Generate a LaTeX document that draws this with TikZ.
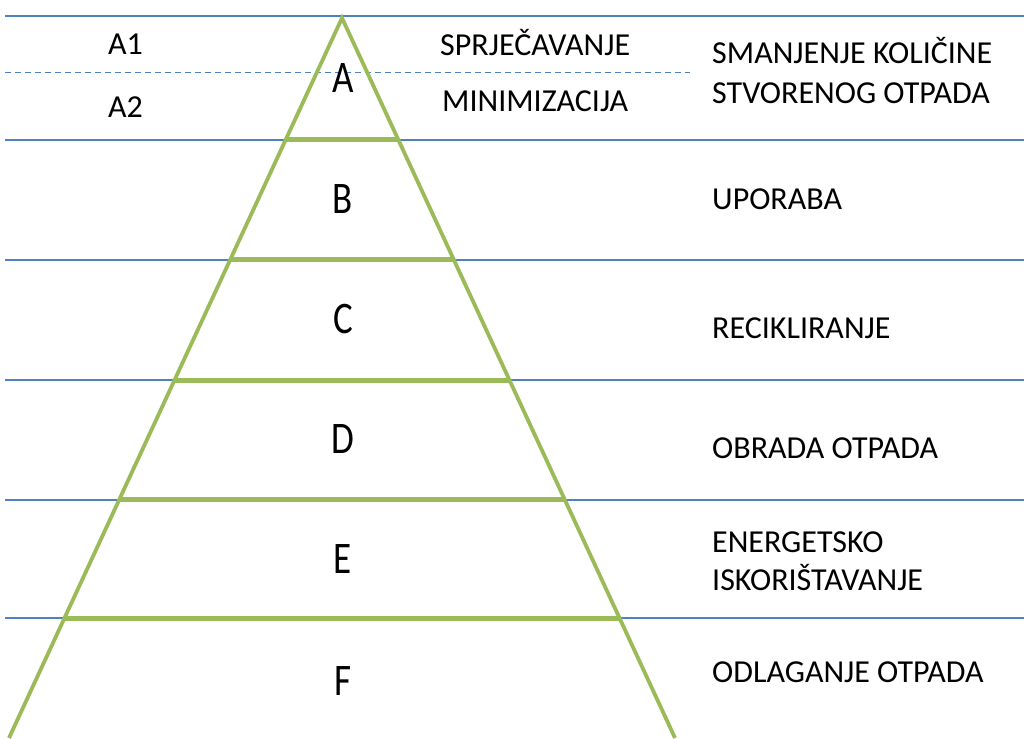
\documentclass[tikz,border=0pt]{standalone}
\usepackage{fontspec}
\usepackage{graphicx}
\setmainfont{Carlito}
\usetikzlibrary{calc}
\definecolor{rowblue}{HTML}{4F81BD}
\definecolor{pyrgreen}{HTML}{9BBB59}
\newcommand{\tallletter}[1]{\scalebox{1}[1.22]{#1}}
\tikzset{
  rowline/.style={rowblue,line width=1.2pt},
  pyrside/.style={pyrgreen,line width=3.8pt,line join=miter},
  pyrrung/.style={pyrgreen,line width=5pt},
  label/.style={anchor=base west,inner sep=0pt,font=\fontsize{32}{38}\selectfont},
  level/.style={anchor=base,inner sep=0pt,font=\fontsize{37}{44}\selectfont},
}
\begin{document}
\begin{tikzpicture}[x=1pt,y=-1pt]
  \useasboundingbox (0,0) rectangle (1024,738);
  % rows
  \foreach \y in {16,140,260,380,500,618}
    \draw[rowline] (5,\y) -- (1024,\y);
  \draw[rowblue,line width=1pt,dash pattern=on 6pt off 4pt] (5,73) -- (690,73);
  % pyramid
  \coordinate (apex) at (342,18);
  \coordinate (bl) at (9,738);
  \coordinate (br) at (675,738);
  \draw[pyrside] (bl) -- (apex) -- (br);
  \foreach \y in {140,260,380,500,618}
    \draw[pyrrung] ($(apex)!{(\y-18)/720}!(bl)$) -- ($(apex)!{(\y-18)/720}!(br)$);
  % levels
  \node[level] (lA) at (343,93) {\tallletter{A}};
  \node[level] (lB) at (343,213) {\tallletter{B}};
  \node[level] (lC) at (343,333) {\tallletter{C}};
  \node[level] (lD) at (343,453) {\tallletter{D}};
  \node[level] (lE) at (343,573) {\tallletter{E}};
  \node[level] (lF) at (343,695) {\tallletter{F}};
  % left and middle texts
  \node[label] (a1) at (108,55) {A1};
  \node[label] (a2) at (108,118) {A2};
  \node[label] (sprj) at (440,56) {SPRJEČAVANJE};
  \node[label] (mini) at (442,112) {MINIMIZACIJA};
  % right texts
  \node[label] (smanj) at (712,64) {SMANJENJE KOLIČINE};
  \node[label] (stvor) at (712,104) {STVORENOG OTPADA};
  \node[label] (upor) at (712,209) {UPORABA};
  \node[label] (recik) at (712,338) {RECIKLIRANJE};
  \node[label] (obrada) at (712,458) {OBRADA OTPADA};
  \node[label] (energ) at (712,552) {ENERGETSKO};
  \node[label] (iskor) at (712,590) {ISKORIŠTAVANJE};
  \node[label] (odlag) at (712,682) {ODLAGANJE OTPADA};
\end{tikzpicture}
\end{document}
